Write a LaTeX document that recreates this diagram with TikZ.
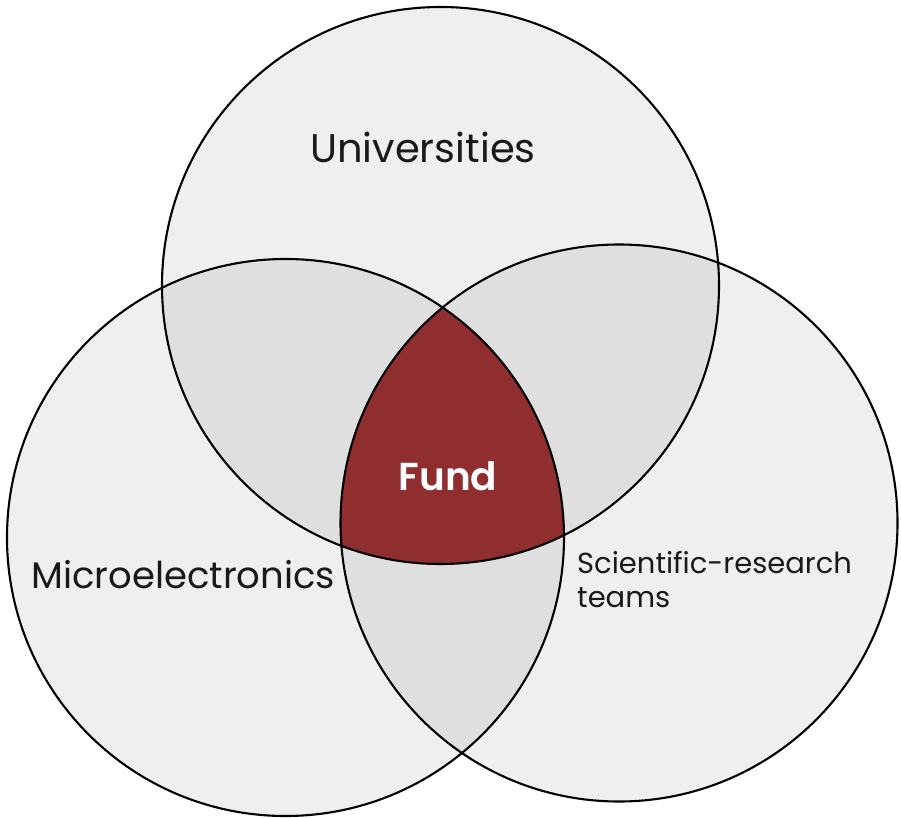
\documentclass[tikz,border=0pt]{standalone}
\usepackage{fontspec}
\setmainfont{Poppins}
\newfontfamily\fundfont{Poppins SemiBold}
\definecolor{lightfill}{HTML}{EFEFEF}
\definecolor{midfill}{HTML}{DFDFDF}
\definecolor{fundred}{HTML}{8F2D2F}
\begin{document}
\begin{tikzpicture}[x=1pt,y=-1pt,
  ring/.style={draw=black,line width=2.1pt},
  lbl/.style={inner sep=0pt,text=black!90}]
\useasboundingbox (0,0) rectangle (901,818);
\fill[white] (0,0) rectangle (901,818);
\def\rr{278.5}
\coordinate (T) at (440.5,285.5);
\coordinate (L) at (285.5,537.5);
\coordinate (R) at (619,523);
% base fills
\fill[lightfill] (T) circle (\rr);
\fill[lightfill] (L) circle (\rr);
\fill[lightfill] (R) circle (\rr);
% pairwise overlaps
\begin{scope}
  \clip (T) circle (\rr);
  \fill[midfill] (L) circle (\rr);
  \fill[midfill] (R) circle (\rr);
\end{scope}
\begin{scope}
  \clip (L) circle (\rr);
  \fill[midfill] (R) circle (\rr);
\end{scope}
% triple overlap
\begin{scope}
  \clip (T) circle (\rr);
  \clip (L) circle (\rr);
  \fill[fundred] (R) circle (\rr);
\end{scope}
% outlines
\draw[ring] (T) circle (\rr);
\draw[ring] (L) circle (\rr);
\draw[ring] (R) circle (\rr);
% labels
\node[lbl,anchor=base,font=\fontsize{40}{48}\selectfont] (uni) at (423,163) {Universities};
\node[lbl,anchor=base west,font=\fontsize{37}{44}\selectfont] (micro) at (31,588) {Microelectronics};
\node[lbl,anchor=base west,align=left,font=\fontsize{29}{34}\selectfont] (sci) at (577,607) {Scientific-research\\teams};
\node[inner sep=0pt,anchor=base,text=white,font=\fontsize{39}{46}\fundfont] (fund) at (448,490) {Fund};
\end{tikzpicture}
\end{document}
